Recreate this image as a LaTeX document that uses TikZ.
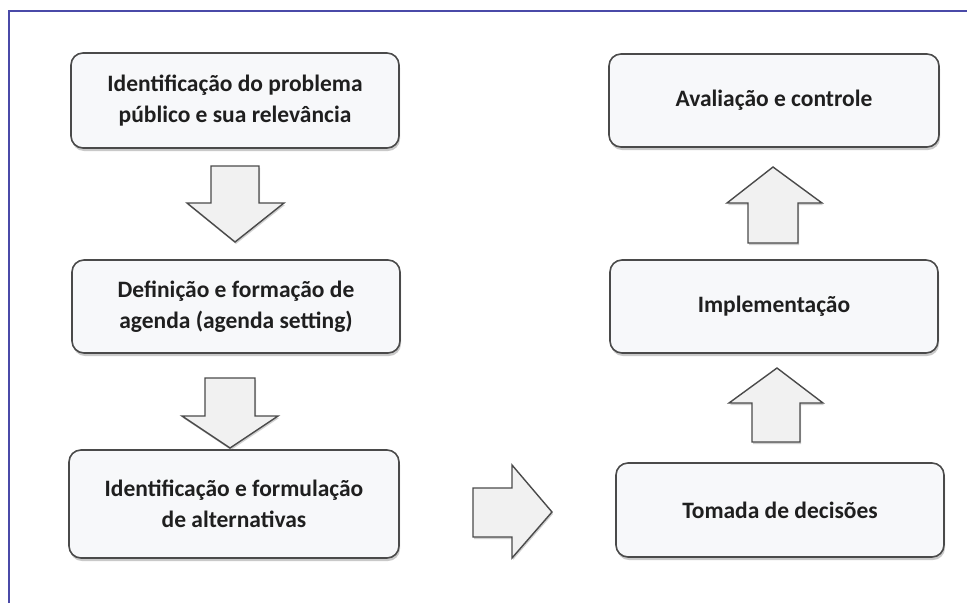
\documentclass[tikz,border=0pt]{standalone}
\usepackage{fontspec}
\setmainfont{Carlito}
\usetikzlibrary{shadows}
\definecolor{framec}{HTML}{4A4AA8}
\definecolor{boxfill}{HTML}{F7F8FA}
\definecolor{boxline}{HTML}{4A4A4A}
\definecolor{arrfill}{HTML}{F1F1F1}
\tikzset{
  stagebox/.style={draw=boxline, line width=1.6pt, fill=boxfill, rounded corners=12pt,
    align=center, font=\bfseries\fontsize{23.5}{31}\selectfont, text=black!88,
    drop shadow={shadow xshift=1pt, shadow yshift=-3pt, opacity=0.35, fill=black!60}},
  blockarrow/.style={draw=boxline, line width=1.4pt, fill=arrfill, line join=miter,
    drop shadow={shadow xshift=1pt, shadow yshift=-2pt, opacity=0.3, fill=black!60}}
}
\begin{document}
\begin{tikzpicture}[x=1pt,y=-1pt]
\useasboundingbox (0,0) rectangle (967,603);
\fill[white] (0,0) rectangle (967,603);
\draw[framec, line width=1.4pt] (9,603) -- (9,11) -- (967,11);

\node[stagebox, minimum width=328pt, minimum height=95pt] (b1) at (235,100.5)
  {Identificação do problema\\público e sua relevância};
\node[stagebox, minimum width=328pt, minimum height=93pt] (b2) at (236,306.5)
  {Definição e formação de\\agenda (agenda setting)};
\node[stagebox, minimum width=330pt, minimum height=108pt] (b3) at (234,504)
  {Identificação e formulação\\de alternativas};
\node[stagebox, minimum width=330pt, minimum height=93pt] (r1) at (774,100.5)
  {Avaliação e controle};
\node[stagebox, minimum width=328pt, minimum height=93pt] (r2) at (774,306.5)
  {Implementação};
\node[stagebox, minimum width=328pt, minimum height=94pt] (r3) at (780,510)
  {Tomada de decisões};

% down arrow 1
\draw[blockarrow] (211,166) -- (259,166) -- (259,203) -- (284,203) -- (235,242)
  -- (187,203) -- (211,203) -- cycle;
% down arrow 2
\draw[blockarrow] (205,378) -- (255,378) -- (255,416) -- (278,416) -- (230,448)
  -- (182,416) -- (205,416) -- cycle;
% right arrow
\draw[blockarrow] (473,488) -- (512,488) -- (512,465) -- (552,512) -- (512,558)
  -- (512,537) -- (473,537) -- cycle;
% up arrow 1
\draw[blockarrow] (748,243) -- (798,243) -- (798,203) -- (822,203) -- (773,167)
  -- (727,203) -- (748,203) -- cycle;
% up arrow 2
\draw[blockarrow] (752,442) -- (800,442) -- (800,403) -- (823,403) -- (777,368)
  -- (729,403) -- (752,403) -- cycle;
\end{tikzpicture}
\end{document}
